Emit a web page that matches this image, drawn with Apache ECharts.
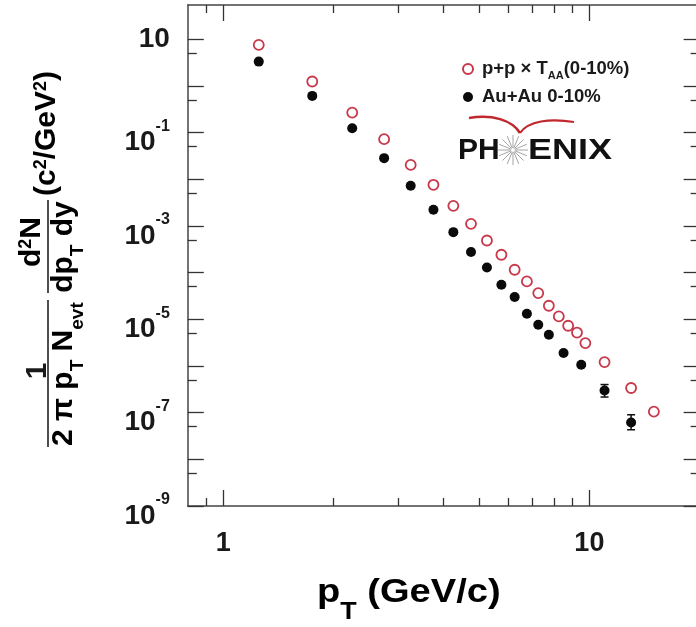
<!DOCTYPE html>
<html><head><meta charset="utf-8">
<script src="https://cdn.jsdelivr.net/npm/echarts@6/dist/echarts.min.js"></script>
<style>html,body{margin:0;padding:0;background:#fff}#c{width:696px;height:627px}</style>
</head><body><div id="c"></div>
<script>
// ---- data ----
const ptPP  = [1.25,1.75,2.25,2.75,3.25,3.75,4.25,4.75,5.25,5.75,6.25,6.75,7.25,7.75,8.25,8.75,9.25,9.75,11,13,15];
const ppTAA = [7.55,1.24,0.268,0.0722,0.0203,0.0076,0.00269,0.00111,4.87e-4,2.41e-4,1.15e-4,6.46e-5,3.64e-5,1.95e-5,1.15e-5,7.26e-6,5.2e-6,3.09e-6,1.21e-6,3.37e-7,1.05e-7];
const ptAu  = [1.25,1.75,2.25,2.75,3.25,3.75,4.25,4.75,5.25,5.75,6.25,6.75,7.25,7.75,8.5,9.5,11,13];
const auAu  = [3.31,0.61,0.124,0.0283,0.00723,0.00221,7.36e-4,2.75e-4,1.29e-4,5.48e-5,2.99e-5,1.31e-5,7.6e-6,4.66e-6,1.89e-6,1.06e-6,2.99e-7,6.17e-8];
const auErrPt   = [11, 13];
const auErrLow  = [2.16e-7, 4.3e-8];
const auErrHigh = [4.0e-7, 9.0e-8];
const xMajorTicks = [1, 10];
const xMinorTicks = [0.9, 2, 3, 4, 5, 6, 7, 8, 9];
const xTickLabels = [1, 10];
const yMajorTicks = [1e-9,1e-8,1e-7,1e-6,1e-5,1e-4,1e-3,1e-2,1e-1,1,10];
const yMinorTicks = [5e-9,5e-8,5e-7,5e-6,5e-5,5e-4,5e-3,5e-2,5e-1,5];
const yTickLabels = [1e-9,1e-7,1e-5,1e-3,1e-1,10];

const FONT = '"Liberation Sans", Arial, sans-serif';
const X_MIN = 0.8, X_MAX = 20, Y_MIN = 1e-9, Y_MAX = 54;
const AXC = '#444';

function xAxis(pos, ticks, len, line, labels) {
  return {
    type: 'log', logBase: 10, min: X_MIN, max: X_MAX, position: pos,
    axisLine: { show: line, lineStyle: { color: AXC, width: 1.5 } },
    axisTick: { show: true, inside: true, length: len, customValues: ticks, lineStyle: { color: '#333', width: 1.3 } },
    splitLine: { show: false }, minorTick: { show: false },
    axisLabel: labels ? {
      show: true, customValues: labels, margin: 24, color: '#1a1a1a',
      fontFamily: FONT, fontWeight: 'bold', fontSize: 27,
      formatter: v => String(Math.round(v))
    } : { show: false }
  };
}
function yAxis(pos, ticks, len, line, labels) {
  return {
    type: 'log', logBase: 10, min: Y_MIN, max: Y_MAX, position: pos,
    axisLine: { show: line, lineStyle: { color: AXC, width: 1.5 } },
    axisTick: { show: true, inside: true, length: len, customValues: ticks, lineStyle: { color: '#333', width: 1.3 } },
    splitLine: { show: false }, minorTick: { show: false },
    axisLabel: labels ? {
      show: true, customValues: labels, margin: 18, color: '#1a1a1a',
      formatter: v => {
        const e = Math.round(Math.log10(v));
        return e === 1 ? '{t|10}' : '{b|10}{s|' + e + '}';
      },
      rich: {
        t: { fontFamily: FONT, fontWeight: 'bold', fontSize: 28, lineHeight: 28, verticalAlign: 'top', color: '#1a1a1a' },
        b: { fontFamily: FONT, fontWeight: 'bold', fontSize: 28, lineHeight: 28, padding: [10, 0, 0, 0], verticalAlign: 'top', color: '#1a1a1a' },
        s: { fontFamily: FONT, fontWeight: 'bold', fontSize: 16, lineHeight: 16, verticalAlign: 'top', color: '#1a1a1a' }
      }
    } : { show: false }
  };
}

const ppData = ptPP.map((x, i) => [x, ppTAA[i]]);
const auData = ptAu.map((x, i) => [x, auAu[i]]);
const errData = auErrPt.map((x, i) => [x, auErrLow[i], auErrHigh[i]]);

// star burst of the logo
const rays = [];
for (let k = 0; k < 16; k++) {
  const a = k * Math.PI / 8;
  rays.push({ type: 'line', shape: { x1: 513 + 2 * Math.cos(a), y1: 150 + 2 * Math.sin(a), x2: 513 + 15 * Math.cos(a), y2: 150 + 15 * Math.sin(a) },
    style: { stroke: '#9a9a9a', lineWidth: 0.9 }, silent: true });
}

const mainRich = {
  m: { fontFamily: FONT, fontWeight: 'bold', fontSize: 30, lineHeight: 30, verticalAlign: 'top', color: '#1a1a1a' },
  s: { fontFamily: FONT, fontWeight: 'bold', fontSize: 19, lineHeight: 19, padding: [19, 0, 0, 0], verticalAlign: 'top', color: '#1a1a1a' },
  u: { fontFamily: FONT, fontWeight: 'bold', fontSize: 18, lineHeight: 14, verticalAlign: 'top', color: '#1a1a1a' }
};

const chart = echarts.init(document.getElementById('c'), null, { renderer: 'canvas' });
chart.setOption({
  backgroundColor: '#fff',
  animation: false,
  grid: { left: 187.8, top: 5, width: 511.8, height: 501, containLabel: false, outerBoundsMode: 'none' },
  xAxis: [
    xAxis('bottom', xMajorTicks, 16, true, xTickLabels),
    xAxis('bottom', xMinorTicks, 8, false, null),
    xAxis('top', xMajorTicks, 16, true, null),
    xAxis('top', xMinorTicks, 8, false, null)
  ],
  yAxis: [
    yAxis('left', yMajorTicks, 16, true, yTickLabels),
    yAxis('left', yMinorTicks, 9, false, null),
    yAxis('right', yMajorTicks, 16, true, null),
    yAxis('right', yMinorTicks, 9, false, null)
  ],
  legend: {
    orient: 'vertical', left: 457, top: 54, itemWidth: 10, itemHeight: 10, itemGap: 6,
    selectedMode: false,
    data: ['pp', 'au'],
    formatter: n => n === 'pp' ? '{a|p+p × T}{b|AA}{a|(0-10%)}' : '{a|Au+Au 0-10%}',
    textStyle: {
      padding: [0, 0, 0, 4],
      rich: {
        a: { fontFamily: FONT, fontWeight: 'bold', fontSize: 18.5, lineHeight: 20, verticalAlign: 'top', color: '#1a1a1a' },
        b: { fontFamily: FONT, fontWeight: 'bold', fontSize: 11, lineHeight: 11, padding: [11, 0, 0, 0], verticalAlign: 'top', color: '#1a1a1a' }
      }
    }
  },
  series: [
    { name: 'pp', type: 'scatter', data: ppData, symbol: 'circle', symbolSize: 10,
      itemStyle: { color: '#fff', borderColor: '#c8384a', borderWidth: 1.8, opacity: 1 }, z: 3 },
    { name: 'au', type: 'scatter', data: auData, symbol: 'circle', symbolSize: 10,
      itemStyle: { color: '#0a0a0a', opacity: 1 }, z: 4 },
    { name: 'auErr', type: 'custom', data: errData, z: 5,
      renderItem: (params, api) => {
        const lo = api.coord([api.value(0), api.value(1)]);
        const hi = api.coord([api.value(0), api.value(2)]);
        const x = lo[0];
        return { type: 'group', children: [
          { type: 'line', shape: { x1: x, y1: lo[1], x2: x, y2: hi[1] }, style: { stroke: '#111', lineWidth: 1.5 } },
          { type: 'line', shape: { x1: x - 4, y1: lo[1], x2: x + 4, y2: lo[1] }, style: { stroke: '#111', lineWidth: 1.5 } },
          { type: 'line', shape: { x1: x - 4, y1: hi[1], x2: x + 4, y2: hi[1] }, style: { stroke: '#111', lineWidth: 1.5 } }
        ] };
      }
    }
  ],
  graphic: [
    // x axis title
    { type: 'text', x: 317, y: 576, scaleX: 1.12, style: {
        text: '{m|p}{s|T}{m| (GeV/c)}',
        rich: {
          m: { fontFamily: FONT, fontWeight: 'bold', fontSize: 34, lineHeight: 34, verticalAlign: 'top', color: '#1a1a1a' },
          s: { fontFamily: FONT, fontWeight: 'bold', fontSize: 24, lineHeight: 24, padding: [24, 0, 0, 0], verticalAlign: 'top', color: '#1a1a1a' }
        } } },
    // y axis title (rotated)
    { type: 'group', x: 48, y: 447, rotation: Math.PI / 2, children: [
      { type: 'line', shape: { x1: 0, y1: 0, x2: 147, y2: 0 }, style: { stroke: '#222', lineWidth: 1.6 } },
      { type: 'text', x: 76, y: 5, style: { text: '1', font: 'bold 30px ' + FONT, fill: '#1a1a1a', align: 'center', verticalAlign: 'bottom' } },
      { type: 'text', x: 1, y: 1, style: { text: '{m|2 π p}{s|T}{m| N}{s|evt}', rich: mainRich, align: 'left', verticalAlign: 'top' } },
      { type: 'line', shape: { x1: 154, y1: 0, x2: 247, y2: 0 }, style: { stroke: '#222', lineWidth: 1.6 } },
      { type: 'text', x: 205, y: -1, style: { text: '{m|d}{u|2}{m|N}', rich: mainRich, align: 'center', verticalAlign: 'bottom' } },
      { type: 'text', x: 200, y: 1, style: { text: '{m|dp}{s|T}{m| dy}', rich: mainRich, align: 'center', verticalAlign: 'top' } },
      { type: 'text', x: 251, y: -16, style: { text: '{m|(c}{u|2}{m|/GeV}{u|2}{m|)}', rich: mainRich, align: 'left', verticalAlign: 'top' } }
    ] },
    // PHENIX logo
    { type: 'text', x: 458, y: 136, style: { text: 'PH', font: 'bold 30px ' + FONT, fill: '#111' } },
    { type: 'text', x: 528, y: 136, scaleX: 1.2, style: { text: 'ENIX', font: 'bold 30px ' + FONT, fill: '#111' } },
    { type: 'group', children: rays },
    { type: 'bezierCurve', shape: { x1: 469, y1: 118, cpx1: 492, cpy1: 114, cpx2: 512, cpy2: 120, x2: 520, y2: 133 },
      style: { stroke: '#c0282d', lineWidth: 2.6, fill: null } },
    { type: 'bezierCurve', shape: { x1: 520, y1: 133, cpx1: 528, cpy1: 121, cpx2: 550, cpy2: 118, x2: 574, y2: 122 },
      style: { stroke: '#c0282d', lineWidth: 2.2, fill: null } }
  ]
});
</script></body></html>
